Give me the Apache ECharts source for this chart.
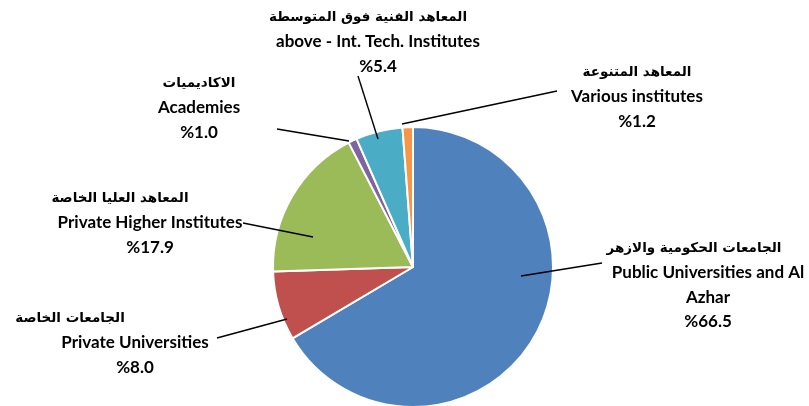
<!DOCTYPE html>
<html>
<head>
<meta charset="utf-8">
<script src="https://cdn.jsdelivr.net/npm/echarts@6/dist/echarts.min.js"></script>
<style>
  html, body { margin: 0; padding: 0; background: #fff; }
  #chart { width: 809px; height: 406px; }
</style>
</head>
<body>
<div id="chart"></div>
<script>
// data
var namesAr = ["الجامعات الحكومية والازهر", "الجامعات الخاصة", "المعاهد العليا الخاصة", "الاكاديميات", "المعاهد الفنية فوق المتوسطة", "المعاهد المتنوعة"];
var namesEn = ["Public Universities and Al\nAzhar", "Private Universities", "Private Higher Institutes", "Academies", "above - Int. Tech. Institutes", "Various institutes"];
var shares = [66.5, 8.0, 17.9, 1.0, 5.4, 1.2];
var colors = ["#4F81BD", "#C0504D", "#9BBB59", "#8064A2", "#4BACC6", "#F79646"];

// label block centres (layout only)
var labelPos = [[708, 285], [135, 343], [150, 223], [199, 108], [378, 42], [637, 97]];
// arabic line shift to the left (as in the original)
var arShift = [28, 130, 60, 0, 20, 0];
// leader lines: from label side to inside the slice (layout only)
var leaderLines = [
  [[602, 263], [521, 276]],
  [[217, 338], [287, 319]],
  [[243, 223], [313, 237]],
  [[277, 129], [349, 141]],
  [[358, 76], [378, 139]],
  [[557, 91], [402, 124]]
];

var myChart = echarts.init(document.getElementById("chart"));

// slices
var sliceData = shares.map(function (v, i) {
  return { value: v, name: namesEn[i], itemStyle: { color: colors[i] } };
});

// same slices again, invisible, only to carry labels + leader lines above the pie
var labelData = shares.map(function (v, i) {
  return {
    value: v,
    name: namesEn[i],
    label: {
      formatter: "{ar|" + namesAr[i] + "}\n{en|" + namesEn[i].split("\n").join("}\n{en|") + "}\n{en|%" + v.toFixed(1) + "}",
      rich: {
        ar: { padding: [0, arShift[i], 0, 0] }
      }
    }
  };
});

var option = {
  backgroundColor: "#fff",
  animation: false,
  series: [
    {
      type: "pie",
      center: [413, 267],
      radius: 140,
      startAngle: 90,
      clockwise: true,
      silent: true,
      z: 1,
      data: sliceData,
      itemStyle: {
        borderColor: "#fff",
        borderWidth: 2
      },
      label: { show: false },
      labelLine: { show: false }
    },
    {
      type: "pie",
      center: [413, 267],
      radius: 140,
      startAngle: 90,
      clockwise: true,
      silent: true,
      z: 5,
      data: labelData,
      itemStyle: {
        color: "rgba(0,0,0,0)",
        borderWidth: 0
      },
      label: {
        show: true,
        position: "outside",
        color: "#000",
        fontFamily: "Lato, 'DejaVu Sans', sans-serif",
        fontWeight: "bold",
        fontSize: 17,
        lineHeight: 24.5,
        align: "center",
        rich: {
          ar: { fontFamily: "'DejaVu Sans', sans-serif", fontWeight: "bold", fontSize: 13.5, color: "#000", lineHeight: 24.5 },
          en: { fontFamily: "Lato, sans-serif", fontWeight: "bold", fontSize: 17, color: "#000", lineHeight: 24.5 }
        }
      },
      labelLine: {
        show: true,
        length: 10,
        length2: 0,
        lineStyle: { color: "#000", width: 1.4 }
      },
      labelLayout: function (params) {
        var p = labelPos[params.dataIndex];
        var l = leaderLines[params.dataIndex];
        return {
          x: p[0], y: p[1], align: "center", verticalAlign: "middle",
          labelLinePoints: [l[0], l[1], l[1]]
        };
      }
    }
  ]
};

myChart.setOption(option);
</script>
</body>
</html>
